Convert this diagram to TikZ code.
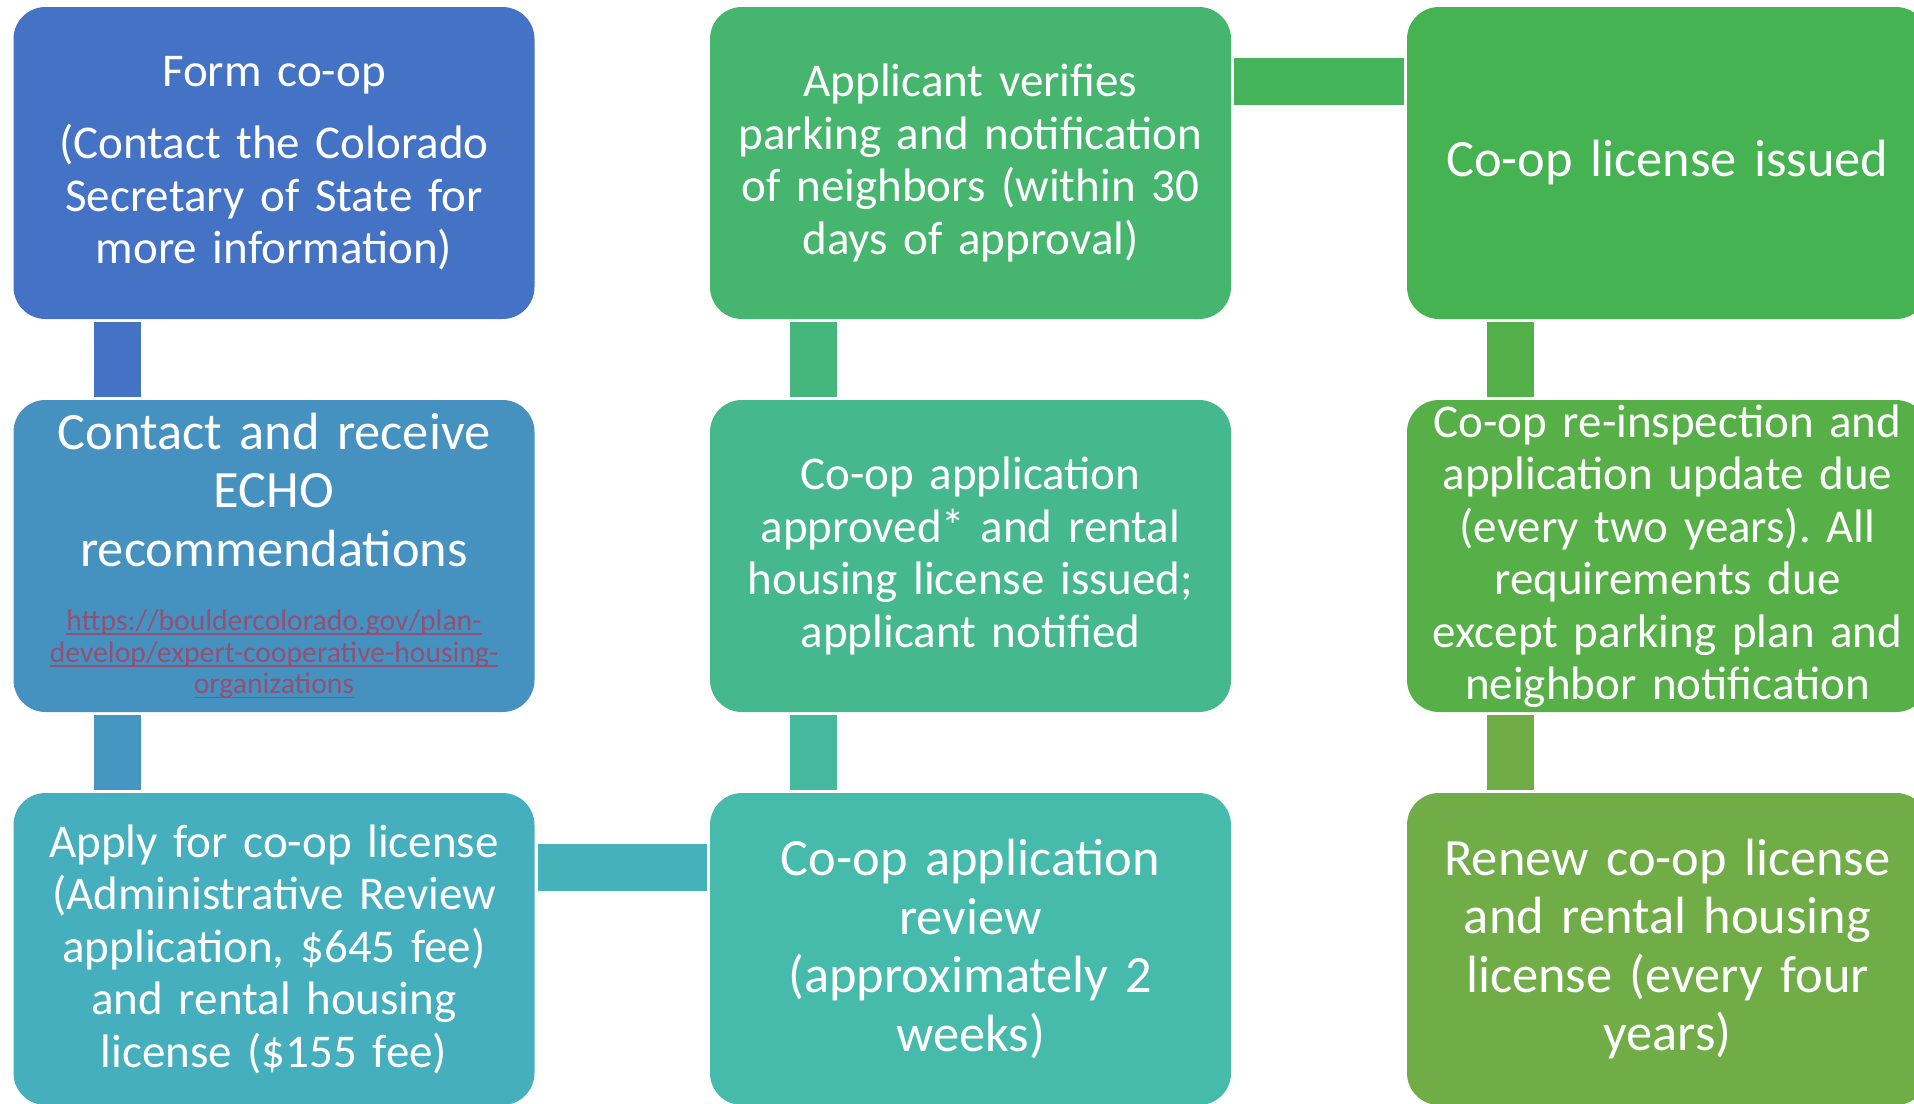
\documentclass[tikz,border=0pt]{standalone}
\usepackage{fontspec}
\setmainfont{Carlito}
\usepackage{tikz}
\frenchspacing

\definecolor{bx1}{HTML}{4472C4}
\definecolor{bx2}{HTML}{4592C1}
\definecolor{bx3}{HTML}{45AFBE}
\definecolor{bx4}{HTML}{46BBAC}
\definecolor{bx5}{HTML}{46B88D}
\definecolor{bx6}{HTML}{46B66F}
\definecolor{bx7}{HTML}{46B352}
\definecolor{bx8}{HTML}{56B047}
\definecolor{bx9}{HTML}{70AD47}
\definecolor{linkcol}{HTML}{954F72}
% connector colours run from blue to green as well
\colorlet{lk1}{bx1}
\colorlet{lk2}{bx2!86!bx3}
\colorlet{lk3}{bx3!71!bx4}
\colorlet{lk4}{bx4!57!bx5}
\colorlet{lk5}{bx5!43!bx6}
\colorlet{lk6}{bx6!29!bx7}
\colorlet{lk7}{bx7!14!bx8}
\colorlet{lk8}{bx9}
% underlined link text
\newcommand{\linkul}[1]{\leavevmode\setbox0\hbox{#1}\rlap{\rule[-2.2pt]{\wd0}{0.7pt}}\box0}

\tikzset{
  stepbox/.style={rounded corners=16pt, minimum width=260.5pt, minimum height=156pt,
    inner sep=0pt, text width=256pt, align=center, text=white},
  smalltxt/.style={font=\fontsize{23.5}{26.25}\selectfont},
  bigtxt/.style={font=\fontsize{26.2}{29.3}\selectfont},
  bar/.style={line width=23.5pt}
}

\begin{document}
\begin{tikzpicture}[x=0.5pt, y=-0.5pt]
\useasboundingbox (0,0) rectangle (1914,1103);
% left column
\node[stepbox, smalltxt, fill=bx1] (form) at (274,163)
  {Form co-op\\[10pt](Contact the Colorado\\Secretary of State for\\more information)};
\node[stepbox, bigtxt, fill=bx2] (echo) at (274,556)
  {Contact and receive\\ECHO\\recommendations\par\vspace{16pt}
   {\fontsize{14.85}{15.9}\selectfont\color{linkcol}\linkul{https://bouldercolorado.gov/plan-}\\
   \linkul{develop/expert-cooperative-housing-}\\\linkul{organizations}\par}};
\node[stepbox, smalltxt, fill=bx3] (apply) at (274,949)
  {Apply for co-op license\\(Administrative Review\\application, \$645 fee)\\and rental housing\\license (\$155 fee)};
% middle column
\node[stepbox, bigtxt, fill=bx4] (review) at (970.5,949)
  {Co-op application\\review\\(approximately 2\\weeks)};
\node[stepbox, smalltxt, fill=bx5] (approved) at (970.5,556)
  {Co-op application\\approved* and rental\\housing license issued;\\applicant notified};
\node[stepbox, smalltxt, fill=bx6] (verify) at (970.5,163)
  {Applicant verifies\\parking and notification\\of neighbors (within 30\\days of approval)};
% right column
\node[stepbox, bigtxt, fill=bx7] (issued) at (1667.5,163) {Co-op license issued};
\node[stepbox, smalltxt, fill=bx8] (reinspect) at (1667.5,556)
  {Co-op re-inspection and\\application update due\\(every two years). All\\requirements due\\except parking plan and\\neighbor notification};
\node[stepbox, bigtxt, fill=bx9] (renew) at (1667.5,949)
  {Renew co-op license\\and rental housing\\license (every four\\years)};

% vertical links
\foreach \a/\b/\c in {form/echo/lk1, echo/apply/lk2, approved/review/lk4,
                      verify/approved/lk5, issued/reinspect/lk7, reinspect/renew/lk8} {
  \draw[bar, \c] ([xshift=52pt, yshift=-1.5pt]\a.south west) -- ([xshift=52pt, yshift=1.5pt]\b.north west);
}
% horizontal links
\draw[bar, lk3] ([xshift=1.5pt, yshift=-37.5pt]apply.north east) -- ([xshift=-1.5pt, yshift=-37.5pt]review.north west);
\draw[bar, lk6] ([xshift=1.5pt, yshift=-37.5pt]verify.north east) -- ([xshift=-1.5pt, yshift=-37.5pt]issued.north west);
\end{tikzpicture}
\end{document}
